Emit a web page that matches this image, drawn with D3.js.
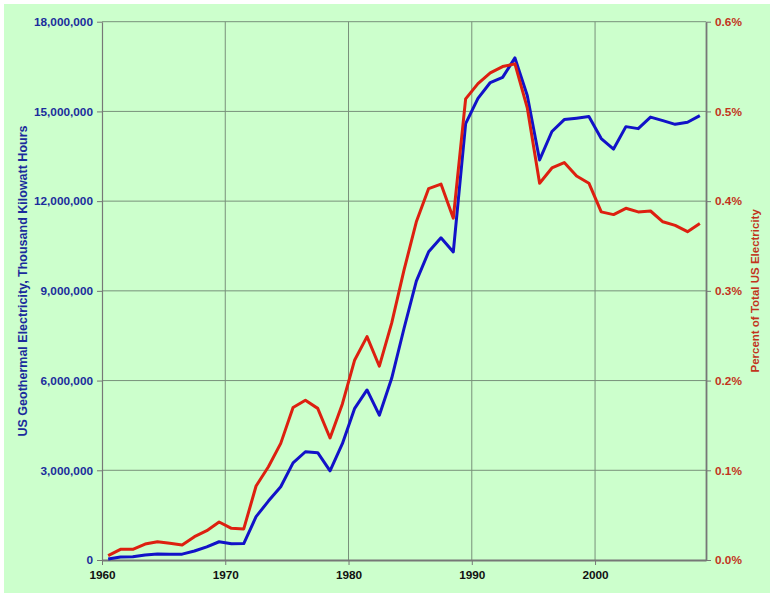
<!DOCTYPE html>
<html>
<head>
<meta charset="utf-8">
<script src="https://cdn.jsdelivr.net/npm/d3@7"></script>
<style>
  html, body { margin: 0; padding: 0; background: #ffffff; }
  svg { display: block; }
  text { font-family: "Liberation Sans", Arial, sans-serif; font-weight: bold; }
</style>
</head>
<body>
<svg id="chart" width="776" height="600"></svg>
<script>
// ---- data ----
const years = [1960,1961,1962,1963,1964,1965,1966,1967,1968,1969,
               1970,1971,1972,1973,1974,1975,1976,1977,1978,1979,
               1980,1981,1982,1983,1984,1985,1986,1987,1988,1989,
               1990,1991,1992,1993,1994,1995,1996,1997,1998,1999,
               2000,2001,2002,2003,2004,2005,2006,2007,2008];
// US geothermal electricity, thousand kWh
const generation = [33000,100000,110000,170000,200000,195000,195000,300000,440000,610000,
                    545000,550000,1450000,1970000,2450000,3246000,3620000,3590000,2980000,3889000,
                    5073000,5686000,4843000,6075000,7741000,9325000,10308000,10775000,10300000,14593000,
                    15434000,15966000,16138000,16789000,15535000,13378000,14329000,14726000,14774000,14827000,
                    14093000,13741000,14491000,14424000,14811000,14692000,14568000,14637000,14860000];
// percent of total US electricity
const percent = [0.0048,0.0119,0.0119,0.0178,0.0204,0.0186,0.0167,0.026,0.0327,0.0424,
                 0.0353,0.0346,0.0825,0.104,0.130,0.170,0.178,0.169,0.136,0.174,
                 0.223,0.249,0.216,0.264,0.323,0.377,0.414,0.419,0.381,0.514,
                 0.531,0.543,0.550,0.553,0.504,0.420,0.437,0.443,0.428,0.420,
                 0.388,0.385,0.392,0.388,0.389,0.377,0.373,0.366,0.375];
const leftTicks = [0,3000000,6000000,9000000,12000000,15000000,18000000];
const rightTicks = [0,0.1,0.2,0.3,0.4,0.5,0.6];
const xTicks = [1960,1970,1980,1990,2000];

// ---- layout ----
const svg = d3.select("#chart");
const L = 102, R = 706, T = 21.7, B = 560;
const blue = "#1212C8", red = "#DD2010";
const blueText = "#1b2c9c", redText = "#c2341c";

svg.append("rect").attr("x",4).attr("y",4).attr("width",766).attr("height",589).attr("fill","#CCFFCC");

const x = d3.scaleLinear().domain([1960, 2009]).range([L, R]);
const yL = d3.scaleLinear().domain([0, 18000000]).range([B, T]);
const yR = d3.scaleLinear().domain([0, 0.6]).range([B, T]);

// gridlines
const grid = svg.append("g");
grid.selectAll("line.h").data(leftTicks.slice(1)).join("line")
  .attr("x1", L).attr("x2", R).attr("y1", d => yL(d)).attr("y2", d => yL(d))
  .attr("stroke", "#78907a").attr("stroke-width", 1);
grid.selectAll("line.v").data(xTicks.slice(1)).join("line")
  .attr("y1", T).attr("y2", B).attr("x1", d => x(d)).attr("x2", d => x(d))
  .attr("stroke", "#78907a").attr("stroke-width", 1);

// axes
const styleAxis = (g, color, w) => {
  g.select(".domain").attr("stroke", "#777777").attr("stroke-width", w);
  g.selectAll(".tick line").attr("stroke", "#777777");
  g.selectAll(".tick text").attr("fill", color).style("font-size", "11.8px").style("font-weight", "bold");
};
svg.append("g").attr("transform", `translate(${L},0)`)
  .call(d3.axisLeft(yL).tickValues(leftTicks).tickFormat(d3.format(",")).tickSize(5).tickSizeOuter(0).tickPadding(4))
  .call(g => styleAxis(g, blueText, 1.2));
svg.append("g").attr("transform", `translate(${R},0)`)
  .call(d3.axisRight(yR).tickValues(rightTicks).tickFormat(d => d.toFixed(1) + "%").tickSize(5).tickSizeOuter(0).tickPadding(4))
  .call(g => styleAxis(g, redText, 1.8));
svg.append("g").attr("transform", `translate(0,${B})`)
  .call(d3.axisBottom(x).tickValues(xTicks).tickFormat(d3.format("d")).tickSize(5).tickSizeOuter(0).tickPadding(6))
  .call(g => styleAxis(g, "#111111", 1.8));

// lines (points centred in each year)
const lineGen = d3.line().x(d => x(d[0] + 0.5)).y(d => d[1]);
svg.append("path")
  .attr("d", lineGen(years.map((yr, i) => [yr, yL(generation[i])])))
  .attr("fill", "none").attr("stroke", blue).attr("stroke-width", 3).attr("stroke-linejoin", "round");
svg.append("path")
  .attr("d", lineGen(years.map((yr, i) => [yr, yR(percent[i])])))
  .attr("fill", "none").attr("stroke", red).attr("stroke-width", 3).attr("stroke-linejoin", "round");

// axis titles
svg.append("text").attr("transform", `translate(27,281) rotate(-90)`)
  .attr("text-anchor", "middle").attr("fill", blueText).style("font-size", "12.5px")
  .text("US Geothermal Electricity, Thousand Kilowatt Hours");
svg.append("text").attr("transform", `translate(759,${(T + B) / 2}) rotate(-90)`)
  .attr("text-anchor", "middle").attr("fill", redText).style("font-size", "11.5px")
  .text("Percent of Total US Electricity");
</script>
</body>
</html>
